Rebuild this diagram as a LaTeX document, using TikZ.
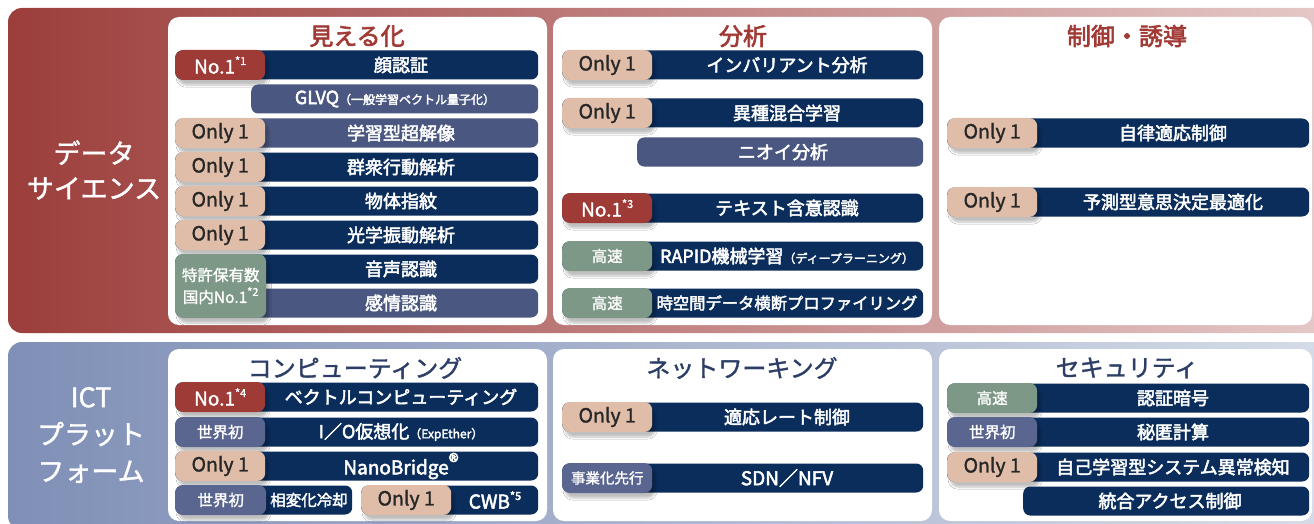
\documentclass[tikz,border=0pt]{standalone}
\usepackage{fontspec}
\setmainfont{Noto Sans CJK JP}
\newfontfamily\med{Noto Sans CJK JP}[FakeBold=2.6]
\newfontfamily\semi{Noto Sans CJK JP}[FakeBold=1.4]
\usetikzlibrary{shadows.blur}
\definecolor{navy}{HTML}{0B2D5B}
\definecolor{slatebar}{HTML}{4A5780}
\definecolor{peach}{HTML}{DFBDA8}
\definecolor{nored}{HTML}{9E3B37}
\definecolor{sage}{HTML}{7D9886}
\definecolor{slatebadge}{HTML}{5A6690}
\definecolor{titlered}{HTML}{A13A35}
\definecolor{titleblue}{HTML}{2C3E66}
\definecolor{redL}{HTML}{9C3E3B}
\definecolor{redR}{HTML}{E6CACA}
\definecolor{blueL}{HTML}{7F8FB6}
\definecolor{blueR}{HTML}{D6DCE8}
\newcommand\fs[1]{\fontsize{#1}{#1}\selectfont}
\newcommand\sups[1]{\raisebox{0.45em}{\fs{11}#1}}
\begin{document}
\begin{tikzpicture}[x=1pt,y=-1pt,
  bar/.style={rectangle, rounded corners=7pt, fill=navy, minimum height=29pt, inner sep=0pt, anchor=west},
  lbar/.style={bar, fill=slatebar},
  badge/.style={rectangle, rounded corners=8pt, minimum height=30pt, minimum width=90pt, inner sep=0pt, anchor=west, text=white, font=\semi\fs{15.5},
    blur shadow={shadow xshift=3pt, shadow yshift=-5pt, shadow opacity=25, shadow blur steps=6}},
  only/.style={badge, fill=peach, text=black!85, font=\semi\fs{19.5}},
  no1/.style={badge, fill=nored, font=\semi\fs{19}},
  fast/.style={badge, fill=sage},
  first/.style={badge, fill=slatebadge},
  itxt/.style={text=white, font=\med\fs{18}, inner sep=0pt},
  panel/.style={fill=white, rounded corners=11pt},
  rtitle/.style={text=titlered, font=\med\fs{24}},
  btitle/.style={text=titleblue, font=\semi\fs{24}},
  side/.style={text=white, align=center}
]
\useasboundingbox (0,0) rectangle (1314,524);
\clip (0,0) rectangle (1314,524);
% bands
\shade[rounded corners=14pt, left color=redL, right color=redR] (8,8) rectangle (1340,333);
\shade[rounded corners=14pt, left color=blueL, right color=blueR] (8,342) rectangle (1340,530);
% panels
\fill[panel] (168,17) rectangle (547,325);
\fill[panel] (553,17) rectangle (932,325);
\fill[panel] (939,17) rectangle (1312,325);
\fill[panel] (168,349) rectangle (547,521);
\fill[panel] (553,349) rectangle (932,521);
\fill[panel] (939,349) rectangle (1312,521);
% side labels
\node[side, font=\semi\fontsize{27}{35}\selectfont] (ds) at (94,170) {データ\\サイエンス};
\node[side, font=\semi\fontsize{27}{37}\selectfont] (ict) at (91,435) {ICT\\プラット\\フォーム};
% titles
\node[rtitle] (t1) at (357,36) {見える化};
\node[rtitle] (t2) at (743,36) {分析};
\node[rtitle] (t3) at (1127,36) {制御・誘導};
\node[btitle] (t4) at (355,368) {コンピューティング};
\node[btitle] (t5) at (742,368) {ネットワーキング};
\node[btitle] (t6) at (1127,368) {セキュリティ};
% ---- 見える化
\node[bar, minimum width=363] (v1b) at (175,65) {};
\node[itxt] (v1t) at (401,65) {顔認証};
\node[no1] (v1g) at (175,65) {No.1\sups{*1}};
\node[lbar, minimum width=287] (v2b) at (251,99) {};
\node[itxt] (v2t) at (395,99) {GLVQ{\fs{12}（一般学習ベクトル量子化）}};
\node[lbar, minimum width=363] (v3b) at (175,133) {};
\node[itxt] (v3t) at (401,133) {学習型超解像};
\node[only] (v3g) at (175,133) {Only 1};
\node[bar, minimum width=363] (v4b) at (175,167) {};
\node[itxt] (v4t) at (401,167) {群衆行動解析};
\node[only] (v4g) at (175,167) {Only 1};
\node[bar, minimum width=363] (v5b) at (175,201) {};
\node[itxt] (v5t) at (401,201) {物体指紋};
\node[only] (v5g) at (175,201) {Only 1};
\node[bar, minimum width=363] (v6b) at (175,235) {};
\node[itxt] (v6t) at (401,235) {光学振動解析};
\node[only] (v6g) at (175,235) {Only 1};
\node[bar, minimum width=363] (v7b) at (175,269) {};
\node[itxt] (v7t) at (401,269) {音声認識};
\node[lbar, minimum width=363] (v8b) at (175,303) {};
\node[itxt] (v8t) at (401,303) {感情認識};
\node[fast, minimum height=64, minimum width=91, align=center, font=\semi\fontsize{15.5}{22}\selectfont] (v7g) at (175,286) {特許保有数\\国内No.1\sups{*2}};
% ---- 分析
\node[bar, minimum width=361] (a1b) at (562,65) {};
\node[itxt] (a1t) at (787,65) {インバリアント分析};
\node[only] (a1g) at (562,65) {Only 1};
\node[bar, minimum width=361] (a2b) at (562,113) {};
\node[itxt] (a2t) at (787,113) {異種混合学習};
\node[only] (a2g) at (562,113) {Only 1};
\node[lbar, minimum width=286] (a3b) at (637,152) {};
\node[itxt] (a3t) at (783,152) {ニオイ分析};
\node[bar, minimum width=361] (a4b) at (562,208) {};
\node[itxt] (a4t) at (787,208) {テキスト含意認識};
\node[no1] (a4g) at (562,208) {No.1\sups{*3}};
\node[bar, minimum width=361] (a5b) at (562,256) {};
\node[itxt] (a5t) at (787,256) {RAPID機械学習{\fs{12}（ディープラーニング）}};
\node[fast] (a5g) at (562,256) {高速};
\node[bar, minimum width=361] (a6b) at (562,303) {};
\node[itxt, font=\med\fs{16.3}] (a6t) at (787,303) {時空間データ横断プロファイリング};
\node[fast] (a6g) at (562,303) {高速};
% ---- 制御・誘導
\node[bar, minimum width=362] (c1b) at (947,133) {};
\node[itxt] (c1t) at (1173,133) {自律適応制御};
\node[only] (c1g) at (947,133) {Only 1};
\node[bar, minimum width=362] (c2b) at (947,202) {};
\node[itxt] (c2t) at (1173,202) {予測型意思決定最適化};
\node[only] (c2g) at (947,202) {Only 1};
% ---- コンピューティング
\node[bar, minimum width=363] (p1b) at (175,397) {};
\node[itxt] (p1t) at (401,397) {ベクトルコンピューティング};
\node[no1] (p1g) at (175,397) {No.1\sups{*4}};
\node[bar, minimum width=363] (p2b) at (175,432) {};
\node[itxt] (p2t) at (401,432) {I／O仮想化{\fs{12}（ExpEther）}};
\node[first] (p2g) at (175,432) {世界初};
\node[bar, minimum width=363] (p3b) at (175,466) {};
\node[itxt, font=\med\fs{19}] (p3t) at (401,466) {NanoBridge\raisebox{0.25em}{\fs{21}®}};
\node[only] (p3g) at (175,466) {Only 1};
\node[bar, minimum width=177] (p4b) at (175,500) {};
\node[itxt, font=\med\fs{15.5}] (p4t) at (309,500) {相変化冷却};
\node[first, minimum width=91] (p4g) at (175,500) {世界初};
\node[bar, minimum width=177] (p5b) at (361,500) {};
\node[itxt, font=\med\fs{19}] (p5t) at (495,500) {CWB\sups{*5}};
\node[only] (p5g) at (361,500) {Only 1};
% ---- ネットワーキング
\node[bar, minimum width=361] (n1b) at (562,417) {};
\node[itxt] (n1t) at (787,417) {適応レート制御};
\node[only] (n1g) at (562,417) {Only 1};
\node[bar, minimum width=361] (n2b) at (562,478) {};
\node[itxt, font=\med\fs{19}] (n2t) at (787,478) {SDN／NFV};
\node[first, font=\semi\fs{14.5}] (n2g) at (562,478) {事業化先行};
% ---- セキュリティ
\node[bar, minimum width=362] (s1b) at (947,398) {};
\node[itxt] (s1t) at (1173,398) {認証暗号};
\node[fast] (s1g) at (947,398) {高速};
\node[bar, minimum width=362] (s2b) at (947,432) {};
\node[itxt] (s2t) at (1173,432) {秘匿計算};
\node[first] (s2g) at (947,432) {世界初};
\node[bar, minimum width=362] (s3b) at (947,467) {};
\node[itxt] (s3t) at (1173,467) {自己学習型システム異常検知};
\node[only] (s3g) at (947,467) {Only 1};
\node[bar, minimum width=286] (s4b) at (1023,501) {};
\node[itxt] (s4t) at (1170,501) {統合アクセス制御};
\end{tikzpicture}
\end{document}
